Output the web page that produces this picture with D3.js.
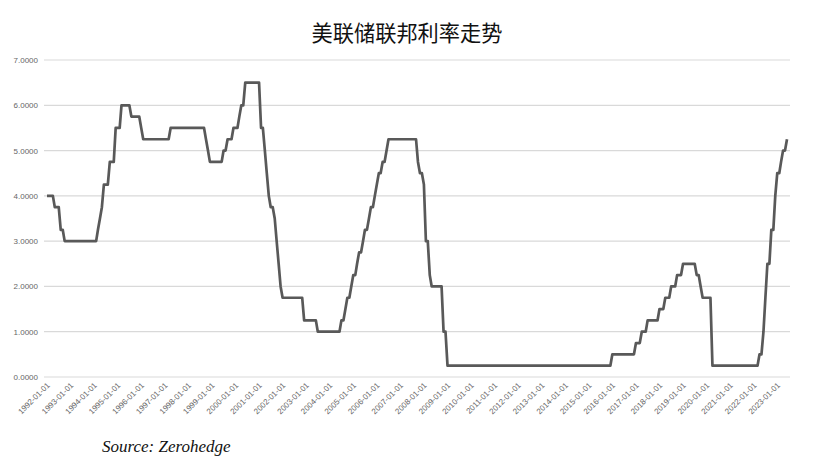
<!DOCTYPE html>
<html><head><meta charset="utf-8">
<script src="https://cdn.jsdelivr.net/npm/d3@7/dist/d3.min.js"></script>
<style>body{margin:0;background:#fff}svg{display:block}</style>
</head><body>
<svg id="c" width="819" height="472"></svg>
<script>
// Fed funds target rate (upper bound) decisions: date, new rate
const changeDates = ["1991-12-20","1992-04-09","1992-07-02","1992-09-04","1994-02-04","1994-03-22","1994-04-18","1994-05-17","1994-08-16","1994-11-15","1995-02-01","1995-07-06","1995-12-19","1996-01-31","1997-03-25","1998-09-29","1998-10-15","1998-11-17","1999-06-30","1999-08-24","1999-11-16","2000-02-02","2000-03-21","2000-05-16","2001-01-03","2001-01-31","2001-03-20","2001-04-18","2001-05-15","2001-06-27","2001-08-21","2001-09-17","2001-10-02","2001-11-06","2001-12-11","2002-11-06","2003-06-25","2004-06-30","2004-08-10","2004-09-21","2004-11-10","2004-12-14","2005-02-02","2005-03-22","2005-05-03","2005-06-30","2005-08-09","2005-09-20","2005-11-01","2005-12-13","2006-01-31","2006-03-28","2006-05-10","2006-06-29","2007-09-18","2007-10-31","2007-12-11","2008-01-22","2008-01-30","2008-03-18","2008-04-30","2008-10-08","2008-10-29","2008-12-16","2015-12-16","2016-12-14","2017-03-15","2017-06-14","2017-12-13","2018-03-21","2018-06-13","2018-09-26","2018-12-19","2019-07-31","2019-09-18","2019-10-30","2020-03-03","2020-03-15","2022-03-16","2022-05-04","2022-06-15","2022-07-27","2022-09-21","2022-11-02","2022-12-14","2023-02-01","2023-03-22","2023-05-03"];
const changeRates = [4.00,3.75,3.25,3.00,3.25,3.50,3.75,4.25,4.75,5.50,6.00,5.75,5.50,5.25,5.50,5.25,5.00,4.75,5.00,5.25,5.50,5.75,6.00,6.50,6.00,5.50,5.00,4.50,4.00,3.75,3.50,3.00,2.50,2.00,1.75,1.25,1.00,1.25,1.50,1.75,2.00,2.25,2.50,2.75,3.00,3.25,3.50,3.75,4.00,4.25,4.50,4.75,5.00,5.25,4.75,4.50,4.25,3.50,3.00,2.25,2.00,1.50,1.00,0.25,0.50,0.75,1.00,1.25,1.50,1.75,2.00,2.25,2.50,2.25,2.00,1.75,1.25,0.25,0.50,1.00,1.75,2.50,3.25,4.00,4.50,4.75,5.00,5.25];
const startMonth = "1992-01-01";
const endMonth = "2023-06-01";
const xTickLabels = d3.range(1992, 2024).map(y => y + "-01-01");
const yTicks = [0,1,2,3,4,5,6,7];
const title = "美联储联邦利率走势";
const source = "Source: Zerohedge";

const parse = d3.utcParse("%Y-%m-%d");
const events = changeDates.map((d,i) => ({date: parse(d), rate: changeRates[i]}));
// monthly observations (value in force on the first of each month)
const months = d3.utcMonth.range(parse(startMonth), d3.utcMonth.offset(parse(endMonth),1));
const monthly = months.map(m => {
  let r = null;
  for (const e of events) { if (e.date < m) r = e.rate; else break; }
  return {date: m, rate: r};
});

const svg = d3.select("#c");
const x = d3.scaleUtc().domain([parse(startMonth), parse(endMonth)]).range([47, 787]);
const y = d3.scaleLinear().domain([0, 7]).range([377, 60]);

// gridlines
svg.append("g").selectAll("line").data(yTicks).join("line")
  .attr("x1", 44).attr("x2", 790)
  .attr("y1", d => y(d)).attr("y2", d => y(d))
  .attr("stroke", "#d9d9d9").attr("stroke-width", 1.2);

// y axis
const ya = svg.append("g").attr("transform", "translate(38,0)")
  .call(d3.axisLeft(y).tickValues(yTicks).tickFormat(d3.format(".4f")).tickSize(0).tickPadding(0));
ya.select(".domain").remove();
ya.selectAll("text").attr("font-family", "Liberation Sans, Arial, sans-serif").attr("font-size", 8).attr("fill", "#666");

// x axis
const xa = svg.append("g").attr("transform", "translate(0,383)")
  .call(d3.axisBottom(x).tickValues(xTickLabels.map(parse)).tickFormat(d3.utcFormat("%Y-%m-%d")).tickSize(0).tickPadding(0));
xa.select(".domain").remove();
xa.selectAll("text")
  .attr("font-family", "Liberation Sans, Arial, sans-serif").attr("font-size", 8).attr("fill", "#666")
  .attr("text-anchor", "end").attr("dy", "0.5em").attr("y", 0)
  .attr("transform", "rotate(-45)");

// line
svg.append("path").datum(monthly)
  .attr("fill", "none").attr("stroke", "#595959").attr("stroke-width", 2.7)
  .attr("stroke-linejoin", "round")
  .attr("d", d3.line().x(d => x(d.date)).y(d => y(d.rate)));

// title
svg.append("text").attr("x", 407).attr("y", 41).attr("text-anchor", "middle")
  .attr("font-family", "Noto Sans CJK SC").attr("font-weight", 400).attr("font-size", 21.5).attr("fill", "#111")
  .attr("textLength", 191).attr("lengthAdjust", "spacingAndGlyphs")
  .text(title);

// source
svg.append("text").attr("x", 102).attr("y", 452)
  .attr("font-family", "Liberation Serif, serif").attr("font-style", "italic").attr("font-size", 17).attr("fill", "#111")
  .text(source);
</script>
</body></html>
